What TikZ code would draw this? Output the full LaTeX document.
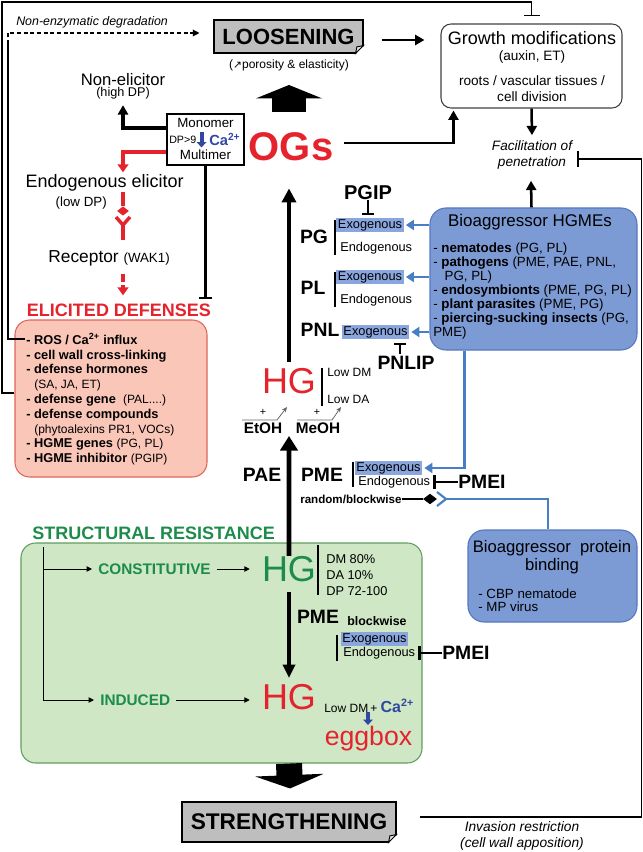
\documentclass[tikz,border=0pt]{standalone}
\usepackage{fontspec}
\setmainfont{Liberation Sans}
\newfontfamily\symfont{DejaVu Sans}
\usetikzlibrary{arrows.meta,calc,shapes.geometric}

\newcommand\fsz[1]{\fontsize{#1}{\fpeval{1.2*#1}}\selectfont}
\newcommand\pnote[1]{{\mdseries\fontsize{9}{11.1}\selectfont#1}}
\def\dogear#1{%
  \fill[white] ([yshift=6pt]#1.south east) -- ([xshift=1pt,yshift=-1pt]#1.south east) -- ([xshift=-6pt]#1.south east) -- cycle;
  \draw[line width=0.7pt, fill=gray!25] ([yshift=6pt]#1.south east) -- ([xshift=-6pt]#1.south east) -- ([xshift=-5pt,yshift=5pt]#1.south east) -- cycle;}

\definecolor{ogred}{RGB}{228,35,45}
\definecolor{resgreen}{RGB}{28,140,75}
\definecolor{resfill}{RGB}{207,231,197}
\definecolor{resedge}{RGB}{95,158,95}
\definecolor{aggfill}{RGB}{124,154,212}
\definecolor{aggedge}{RGB}{85,120,192}
\definecolor{exohl}{RGB}{138,166,222}
\definecolor{aggline}{RGB}{72,126,196}
\definecolor{cablue}{RGB}{48,72,160}
\definecolor{elifill}{RGB}{250,198,184}
\definecolor{eliedge}{RGB}{224,100,90}
\definecolor{boxgray}{RGB}{190,190,190}

\tikzset{graybox/.style={fill=boxgray, draw=black, line width=0.8pt},
    roundbox/.style={draw=black!75, line width=0.8pt, rounded corners=7.5pt},
    elibox/.style={fill=elifill, draw=eliedge, line width=0.8pt, rounded corners=11pt},
    aggbox/.style={fill=aggfill, draw=aggedge, line width=0.8pt, rounded corners=12pt},
    resbox/.style={fill=resfill, draw=resedge, line width=0.8pt, rounded corners=11pt},
    exo/.style={fill=exohl, inner sep=1.2pt, font=\fsz{9.6}},
    endog/.style={anchor=west, font=\fsz{9.6}},
    dmtext/.style={anchor=west, font=\fsz{9.6}},
    bracket/.style={line width=1.1pt},
    frameline/.style={line width=0.9pt},
    medarrow/.style={line width=1.9pt, -{Triangle[width=7.5pt,length=7pt]}},
    thickup/.style={line width=3pt, -{Triangle[width=10.5pt,length=10.5pt]}},
    bigup/.style={line width=3.5pt, -{Triangle[width=13pt,length=11pt]}},
    thickdown/.style={line width=3pt, -{Triangle[width=9pt,length=10pt]}},
    blockup/.style={line width=26pt, -{Triangle[width=49pt,length=10pt]}},
    blockdown/.style={line width=19.5pt, -{Triangle[width=51pt,length=10pt]}},
    redline/.style={draw=ogred, line width=2.6pt},
    redarrow/.style={redline, -{Triangle[width=8pt,length=6pt]}},
    bluelink/.style={draw=aggline, line width=1.8pt},
    bluearrow/.style={bluelink, -{Triangle[width=7.5pt,length=6pt]}},
    cadown/.style={draw=cablue, line width=3pt, -{Triangle[width=7pt,length=4pt]}},
    tbar/.style={line width=2pt, -{Bar[width=10pt]}},
    tbarsmall/.style={line width=1.6pt, -{Bar[width=9pt]}},
    release/.style={draw=black!60, line width=0.6pt, -{Stealth[length=4pt,width=3.5pt]}},
    treeline/.style={line width=0.7pt},
    treearrow/.style={treeline, -{Triangle[width=4pt,length=4pt]}}}

\begin{document}
\begin{tikzpicture}[x=0.75pt,y=-0.75pt, every node/.style={inner sep=0pt}]
\useasboundingbox (0,0) rectangle (642,852);

% top row
\node[graybox, minimum width=111.75pt, minimum height=24.75pt, font=\bfseries\fsz{16.5}] (loosen) at (288.5,36.5) {LOOSENING};
\dogear{loosen}
\node[font=\fsz{9}] (poro) at (289,65) {({\symfont\fsz{8}↗}porosity \& elasticity)};
\node[anchor=west, font=\itshape\fsz{9.3}] (nonenz) at (16,22) {Non-enzymatic degradation};

\node[roundbox, minimum width=135.75pt, minimum height=63pt] (growth) at (531.5,66) {};
\node[font=\fsz{13.5}] (gmod) at (532,38) {Growth modifications};
\node[font=\fsz{10.2}] (auxin) at (532,57) {(auxin, ET)};
\node[font=\fsz{10.2}] (roots) at (532,81) {roots / vascular tissues /};
\node[font=\fsz{10.2}] (celldiv) at (532,97) {cell division};
\node[font=\itshape\fsz{10.2}, align=center] (facil) at (532,155) {Facilitation of\\penetration};

% oligogalacturonides
\node[draw, line width=0.8pt, minimum width=57.75pt, minimum height=38.25pt] (mono) at (205.5,139.5) {};
\node[font=\fsz{10}] (monomer) at (205.5,123) {Monomer};
\node[anchor=west, font=\fsz{8}] (dp9) at (169,139.5) {DP>9};
\node[anchor=west, font=\bfseries\fsz{11}, text=cablue] (camono) at (209,139.5) {Ca\textsuperscript{2+}};
\node[font=\fsz{10}] (multimer) at (205.5,155) {Multimer};
\draw[cadown] ($(dp9.east)+(5,-7)$) -- ($(dp9.east)+(5,8)$);
\node[font=\bfseries\fsz{30}, text=ogred] (ogs) at (291,147) {OGs};
\coordinate (upbase) at (289,112);
\coordinate (uptip) at (289,85);
\draw[blockup] (upbase) -- (uptip);

\node[font=\fsz{12.5}] (nonel) at (123,80) {Non-elicitor};
\node[font=\fsz{9.5}] (highdp) at (123,93) {(high DP)};
\node[anchor=east, font=\fsz{13.5}] (endo) at (184,183) {Endogenous elicitor};
\node[anchor=east, font=\fsz{10}] (lowdp) at (107,203) {(low DP)};
\node[diamond, fill=ogred, minimum width=9pt, minimum height=7pt] (ligand) at (123,211) {};
\coordinate (rcp) at (123,225);
\node[anchor=east, font=\fsz{13}] (recep) at (170,258) {Receptor {\fsz{10}(WAK1)}};

% elicited defenses
\node[font=\bfseries\fsz{13.5}, text=ogred] (elicit) at (119,310) {ELICITED DEFENSES};
\node[elibox, minimum width=144pt, minimum height=117.75pt] (elibox) at (111,398.5) {};
\node[anchor=north west, align=left, font=\bfseries\fontsize{9.6}{11.1}\selectfont] (elilist) at (26,333)
  {- ROS / Ca\textsuperscript{2+} influx\\- cell wall cross-linking\\- defense hormones\\\hspace*{6pt}\pnote{(SA, JA, ET)}\\- defense gene \ \pnote{(PAL....)}\\- defense compounds\\\hspace*{6pt}\pnote{(phytoalexins PR1, VOCs)}\\- HGME genes \pnote{(PG, PL)}\\- HGME inhibitor \pnote{(PGIP)}};

% cell wall enzymes
\node[font=\bfseries\fsz{15}] (pgip) at (368,193) {PGIP};
\node[font=\bfseries\fsz{14.5}] (pg) at (314,237) {PG};
\node[exo] (pgexo) at (370,225) {Exogenous};
\node[endog] (pgendo) at (340,248) {Endogenous};
\node[font=\bfseries\fsz{14.5}] (pl) at (313,288) {PL};
\node[exo] (plexo) at (370,277) {Exogenous};
\node[endog] (plendo) at (340,300) {Endogenous};
\node[font=\bfseries\fsz{14.5}] (pnl) at (320,330) {PNL};
\node[exo] (pnlexo) at (375.5,332) {Exogenous};
\node[font=\bfseries\fsz{14.5}] (pnlip) at (406,363) {PNLIP};
\draw[bracket] (335,220) -- (335,255);
\draw[bracket] (335,272) -- (335,307);

\node[font=\fsz{27}, text=ogred] (hgup) at (289,381) {HG};
\draw[bracket] (322,368) -- (322,406);
\node[anchor=west, font=\fsz{9}] (lowdm) at (327,372) {Low DM};
\node[anchor=west, font=\fsz{9}] (lowda) at (327,399) {Low DA};
\node[font=\bfseries\fsz{11.5}] (etoh) at (263,428) {EtOH};
\node[font=\bfseries\fsz{11.5}] (meoh) at (318,428) {MeOH};
\node[font=\fsz{8}] (plus1) at (263,412) {+};
\node[font=\fsz{8}] (plus2) at (317,412) {+};
\draw[release] (242,420) -- (277,420) -- (287,407);
\draw[release] (297,420) -- (332,420) -- (341,407);

\node[font=\bfseries\fsz{14.5}] (pae) at (262,475) {PAE};
\node[font=\bfseries\fsz{14.5}] (pme) at (322,475) {PME};
\draw[bracket] (353,462) -- (353,487);
\node[exo] (pmeexo) at (388.5,468) {Exogenous};
\node[endog] (pmeendo) at (358,482) {Endogenous};
\node[anchor=west, font=\bfseries\fsz{14.5}] (pmei) at (458,482) {PMEI};
\node[anchor=west, font=\bfseries\fsz{8.7}] (rbw) at (300,499) {random/blockwise};
\node[diamond, fill=black, minimum width=10.5pt, minimum height=8pt] (pmdiam) at (430,499) {};
\coordinate (brc) at (446,499);

% bioaggressors
\node[aggbox, minimum width=155.25pt, minimum height=106.5pt] (bioagg) at (533.5,279) {};
\node[font=\fsz{12.7}] (bioaggt) at (530,222) {Bioaggressor HGMEs};
\node[anchor=north west, align=left, font=\fontsize{10}{10.4}\selectfont] (bioagglist) at (433,243)
  {- \textbf{nematodes} (PG, PL)\\- \textbf{pathogens} (PME, PAE, PNL,\\\hspace*{8.5pt}PG, PL)\\- \textbf{endosymbionts} (PME, PG, PL)\\- \textbf{plant parasites} (PME, PG)\\- \textbf{piercing-sucking insects} (PG,\\PME)};
\node[aggbox, minimum width=126.75pt, minimum height=69pt] (protein) at (552.5,576) {};
\node[align=center, font=\fontsize{12.5}{13.5}\selectfont] (proteint) at (552,557) {Bioaggressor\ \ protein\\binding};
\node[anchor=north west, align=left, font=\fontsize{10}{9.75}\selectfont] (proteinlist) at (478,589) {- CBP nematode\\- MP virus};

% structural resistance
\node[resbox, minimum width=300.75pt, minimum height=165pt] (res) at (221.5,653) {};
\node[anchor=west, font=\bfseries\fsz{13.5}, text=resgreen] (structres) at (32,533) {STRUCTURAL RESISTANCE};
\node[anchor=west, font=\bfseries\fsz{11.5}, text=resgreen] (const) at (98,569) {CONSTITUTIVE};
\node[anchor=west, font=\bfseries\fsz{11.5}, text=resgreen] (induced) at (100,700) {INDUCED};
\node[font=\fsz{27}, text=resgreen] (hggreen) at (289,569) {HG};
\draw[bracket] (318,545) -- (318,595);
\node[dmtext] (dm80) at (326,559) {DM 80\%};
\node[dmtext] (da10) at (326,575) {DA 10\%};
\node[dmtext] (dp72) at (326,591) {DP 72-100};
\node[font=\bfseries\fsz{14.5}] (pme2) at (318,617) {PME};
\node[anchor=west, font=\bfseries\fsz{9.3}] (blockw) at (347,621) {blockwise};
\draw[bracket] (337,635) -- (337,661);
\node[exo] (pme2exo) at (374.5,639) {Exogenous};
\node[endog] (pme2endo) at (343,653) {Endogenous};
\node[anchor=west, font=\bfseries\fsz{14.5}] (pmei2) at (442,653) {PMEI};
\node[font=\fsz{27}, text=ogred] (hgred) at (289,697) {HG};
\node[anchor=west, font=\fsz{9}] (lowdm2) at (324,706) {Low DM\,+ {\bfseries\fsz{12}\color{cablue}Ca\textsuperscript{2+}}};
\node[anchor=base, font=\fsz{20}, text=ogred] (eggbox) at (368.5,745) {eggbox};
\draw[cadown] (368,712) -- (368,725);

\node[graybox, minimum width=160.5pt, minimum height=30pt, font=\bfseries\fsz{17}] (strength) at (289,822) {STRENGTHENING};
\dogear{strength}
\node[align=center, font=\itshape\fontsize{10.3}{12}\selectfont] (invasion) at (522,836) {Invasion restriction\\(cell wall apposition)};

% connectors
\draw[blockdown] (res.south -| hgred.south) -- ($(strength.north)+(1,-13)$);
\draw[thickup] ($(hgup.north)+(0,-6)$) -- ($(ogs.south)+(-2,27)$);
\draw[bigup] (hggreen.north) -- ($(etoh.east)!0.5!(meoh.west)+(0,8)$);
\draw[thickdown] ($(hggreen.south)+(0,10)$) -- ($(hgred.north)+(0,-6)$);

\draw[medarrow, line width=2.4pt] ($(mono.west)+(0,-11.5)$) -| ($(highdp.south)+(0,6)$);
\draw[redarrow] ($(mono.west)+(0,12.5)$) -| ($(endo.north -| highdp.south)+(0,-2)$);
\draw[redline] ($(lowdp.east -| ligand.north)+(0,-11)$) -- (ligand.north);
\draw[redline] ($(rcp)+(-7,-8)$) -- (rcp) -- ($(rcp)+(7,-8)$);
\draw[redline] (rcp) -- ($(recep.north -| rcp)+(0,-10)$);
\draw[redarrow, dash pattern=on 6pt off 2.5pt] ($(recep.south -| rcp)+(0,8)$) -- ($(elicit.north -| rcp)+(0,-8)$);
\draw[tbar] (mono.south) -- ($(elicit.north -| mono.south)+(0,-4)$);

\draw[frameline] ($(elilist.north west)+(-1,6)$) -| (8,44);
\draw[frameline, dash pattern=on 3pt off 2pt, -{Triangle[width=5pt,length=5pt]}] (8,44) -- (8,33) -- ($(loosen.west)+(-14,-3.5)$);
\draw[frameline, -{Bar[width=12pt]}] ($(elibox.west)+(0,-5.5)$) -| (2,2) -| ($(growth.north)+(0,-7)$);
\draw[frameline, -{Bar[width=12pt]}] ($(strength.east)+(23,-5)$) -| ($(facil.east)+(69,4)$) -- ($(facil.east)+(5,4)$);

\draw[medarrow] ($(loosen.east)+(18,3.5)$) -- ($(growth.west)+(-16,-26)$);
\draw[medarrow] ($(ogs.east)+(10,-4)$) -| ($(growth.south west)+(13,2)$);
\draw[medarrow] (growth.south) -- ($(facil.north)+(0,-5)$);
\draw[medarrow] (growth.south |- bioagg.north) -- ($(facil.south)+(-1,11)$);

\draw[tbarsmall] (pgip.south) -- ($(pgexo.north -| pgip.south)+(0,-2)$);
\draw[tbarsmall] ($(pnlip.north)+(-6,-2)$) -- ($(pnlexo.south -| pnlip.north)+(-6,3)$);
\draw[bluearrow] (bioagg.west |- pgexo) -- ($(pgexo.east)+(2,0)$);
\draw[bluearrow] (bioagg.west |- plexo) -- ($(plexo.east)+(2,0)$);
\draw[bluearrow] (bioagg.west |- pnlexo) -- ($(pnlexo.east)+(2,0)$);
\draw[bluearrow] ($(bioagg.south west)+(35,0)$) |- ($(pmeexo.east)+(2,0)$);
\draw[tbar] (pmei.west) -- ($(pmeendo.east)+(3,0)$);
\draw[tbar] (pmei2.west) -- ($(pme2endo.east)+(3,0)$);
\draw[line width=2.2pt] (rbw.east) -- (pmdiam.west);
\draw[bluelink, line width=1.6pt] ($(brc)+(-9,-7)$) -- (brc) -- ($(brc)+(-9,7)$);
\draw[bluelink] (brc) -| ($(protein.north)+(-4.5,0)$);

\draw[treeline] (43,547) -- (43,700);
\draw[treearrow] (43,569) -- ($(const.west)+(-6,0)$);
\draw[treearrow] (43,700) -- ($(induced.west)+(-6,0)$);
\draw[treearrow] ($(const.east)+(6,0)$) -- ($(hggreen.west)+(-12,0)$);
\draw[treearrow] ($(induced.east)+(6,0)$) -- ($(hgred.west)+(-12,3)$);
\end{tikzpicture}
\end{document}
